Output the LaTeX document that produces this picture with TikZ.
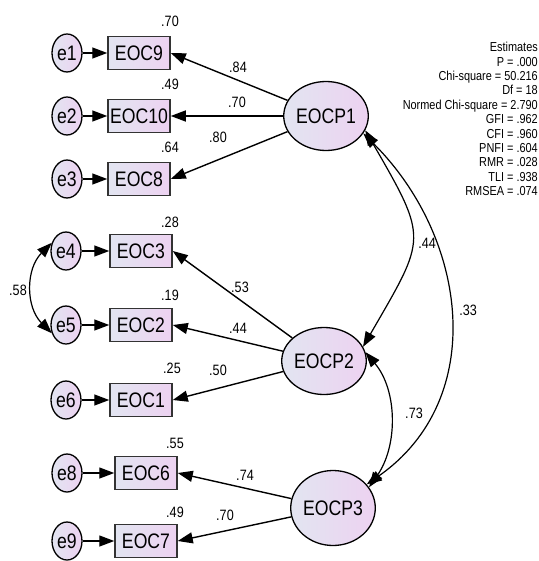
\documentclass[tikz,border=0pt]{standalone}
\usepackage{fontspec}
\setmainfont{Liberation Sans}[FakeStretch=0.84]
\usetikzlibrary{arrows.meta,shapes.geometric,positioning}
\definecolor{lilacL}{HTML}{E2E5F1}
\definecolor{lilacR}{HTML}{EDD2F1}
\tikzset{
  >={Triangle[length=15pt,width=11pt]},
  latent/.style={ellipse, draw, line width=1.3pt, left color=lilacL, right color=lilacR,
    inner sep=0pt, minimum width=80pt, minimum height=70pt, font=\fontsize{21}{23}\selectfont},
  errvar/.style={ellipse, draw, line width=1.3pt, left color=lilacL, right color=lilacR,
    inner sep=0pt, minimum width=30pt, minimum height=38pt, font=\fontsize{21}{23}\selectfont},
  indic/.style={rectangle, draw=black!80, line width=1.5pt, left color=lilacL, right color=lilacR,
    inner sep=0pt, minimum width=62pt, minimum height=33pt, font=\fontsize{21}{23}\selectfont},
  coef/.style={inner sep=0pt, font=\fontsize{15}{17}\selectfont},
  path/.style={->, line width=1.4pt},
  cov/.style={<->, line width=1.2pt},
}
\begin{document}
\begin{tikzpicture}[x=1pt,y=1pt]
  \useasboundingbox (0,0) rectangle (538,-561);
  \node[errvar] (e1) at (67,-53) {e1};
  \node[errvar] (e2) at (67,-116) {e2};
  \node[errvar] (e3) at (67,-179) {e3};
  \node[errvar] (e4) at (66,-251) {e4};
  \node[errvar] (e5) at (66,-325) {e5};
  \node[errvar] (e6) at (66,-400) {e6};
  \node[errvar] (e8) at (67,-473) {e8};
  \node[errvar] (e9) at (67,-541) {e9};
  \node[indic] (eoc9) at (139,-53) {EOC9};
  \node[indic] (eoc10) at (139,-116) {EOC10};
  \node[indic] (eoc8) at (139,-179) {EOC8};
  \node[indic] (eoc3) at (141,-251) {EOC3};
  \node[indic] (eoc2) at (141,-325) {EOC2};
  \node[indic] (eoc1) at (141,-400) {EOC1};
  \node[indic] (eoc6) at (146,-473) {EOC6};
  \node[indic] (eoc7) at (146,-541) {EOC7};
  \node[latent, minimum width=79pt, minimum height=69pt] (eocp1) at (326,-116) {EOCP1};
  \node[latent, minimum width=82pt, minimum height=67pt] (eocp2) at (324,-361) {EOCP2};
  \node[latent, minimum width=80pt, minimum height=75pt] (eocp3) at (333,-508) {EOCP3};
  \draw[path] (e1) -- (eoc9);
  \draw[path] (e2) -- (eoc10);
  \draw[path] (e3) -- (eoc8);
  \draw[path] (e4) -- (eoc3);
  \draw[path] (e5) -- (eoc2);
  \draw[path] (e6) -- (eoc1);
  \draw[path] (e8) -- (eoc6);
  \draw[path] (e9) -- (eoc7);
  \draw[path] (eocp1) -- (eoc9.east);
  \draw[path] (eocp1) -- (eoc10.east);
  \draw[path] (eocp1) -- (eoc8.east);
  \draw[path] (eocp2) -- (eoc3.east);
  \draw[path] (eocp2) -- (eoc2.east);
  \draw[path] (eocp2) -- (eoc1.east);
  \draw[path] (eocp3) -- (eoc6.east);
  \draw[path] (eocp3) -- (eoc7.east);
  \draw[cov] (e4.150) to[out=-135, in=135, looseness=1.05] (e5.210);
  \draw[cov] (eocp1.-20) to[out=-60, in=60, looseness=1.5] (eocp2.20);
  \draw[cov] (eocp1.-25) to[out=-45, in=35, looseness=1.08] (eocp3.35);
  \draw[cov] (eocp2.12) to[out=-50, in=55, looseness=0.95] (eocp3.30);
  \node[coef] (r9) at (170,-21) {.70};
  \node[coef] (r10) at (170,-84) {.49};
  \node[coef] (r8) at (170,-147) {.64};
  \node[coef] (r3) at (170,-222) {.28};
  \node[coef] (r2) at (170,-295) {.19};
  \node[coef] (r1) at (172,-368) {.25};
  \node[coef] (r6) at (175,-443) {.55};
  \node[coef] (r7) at (175,-512) {.49};
  \node[coef] (l9) at (238,-67) {.84};
  \node[coef] (l10) at (237,-102) {.70};
  \node[coef] (l8) at (218,-137) {.80};
  \node[coef] (l3) at (240,-287) {.53};
  \node[coef] (l2) at (238,-328) {.44};
  \node[coef] (l1) at (218,-370) {.50};
  \node[coef] (l6) at (245,-475) {.74};
  \node[coef] (l7) at (225,-515) {.70};
  \node[coef] (c45) at (18,-290) {.58};
  \node[coef] (c12) at (427,-243) {.44};
  \node[coef] (c13) at (468,-310) {.33};
  \node[coef] (c23) at (414,-413) {.73};
  \node[anchor=north east, align=right, inner sep=0pt, font=\fontsize{13}{14.4}\selectfont] (fit) at (538,-42)
    {Estimates\\P = .000\\Chi-square = 50.216\\Df = 18\\Normed Chi-square = 2.790\\GFI = .962\\CFI = .960\\PNFI = .604\\RMR = .028\\TLI = .938\\RMSEA = .074};
\end{tikzpicture}
\end{document}
